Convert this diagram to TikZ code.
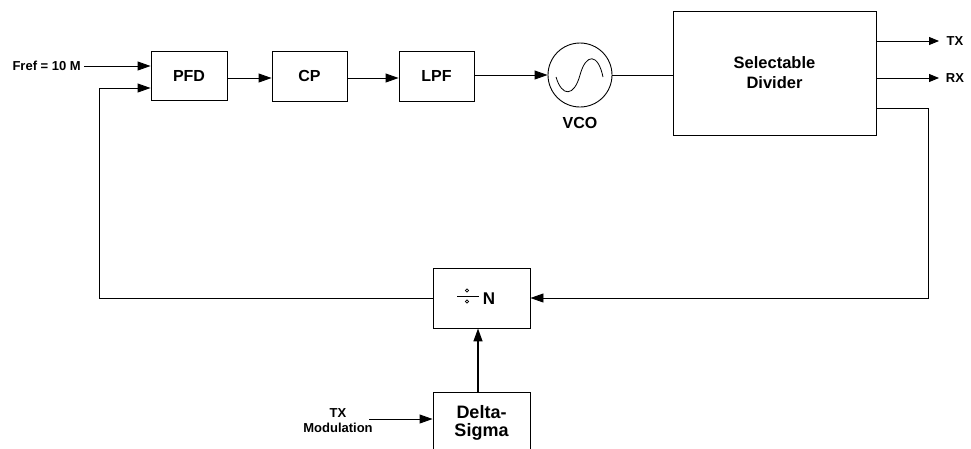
\documentclass[tikz,border=0pt]{standalone}
\usepackage{fontspec}
\setmainfont{Liberation Sans}
\usetikzlibrary{arrows.meta,calc}
\begin{document}
\begin{tikzpicture}[x=1pt,y=-1pt,
  blk/.style={draw=black,line width=0.9pt,rectangle,inner sep=0pt,font=\bfseries\fontsize{16}{18}\selectfont},
  lbl/.style={inner sep=0pt,font=\bfseries\fontsize{13}{15}\selectfont,align=center},
  arr/.style={draw=black,line width=0.9pt,-{Triangle[length=13pt,width=9pt]}},
  ln/.style={draw=black,line width=0.9pt}]
\useasboundingbox (0,0) rectangle (971,448);
% blocks
\node[blk,minimum width=76pt,minimum height=49pt] (PFD) at (189,76) {PFD};
\node[blk,minimum width=75pt,minimum height=50pt] (CP) at (309.5,76) {CP};
\node[blk,minimum width=75pt,minimum height=50pt] (LPF) at (436.5,76) {LPF};
\node[draw=black,line width=0.9pt,circle,minimum size=64pt,inner sep=0pt] (VCO) at (580,75) {};
\node[lbl,font=\bfseries\fontsize{16}{18}\selectfont] (VCOl) at (580,123) {VCO};
\node[blk,minimum width=203pt,minimum height=124pt,align=center,font=\bfseries\fontsize{16.5}{20}\selectfont] (Div) at (774.5,73) {Selectable\\Divider};
\node[blk,minimum width=97pt,minimum height=60pt] (DivN) at (481.5,298) {};
\node[blk,minimum width=97pt,minimum height=62pt,align=center,font=\bfseries\fontsize{18}{18}\selectfont] (DS) at (481.5,423) {Delta-\\Sigma};
% divide symbol and N
\draw[line width=0.9pt] (457,296) -- (479,296);
\draw[line width=0.6pt] (467,290.5) circle (1.6);
\draw[line width=0.6pt] (467,301.5) circle (1.6);
\node[lbl,font=\bfseries\fontsize{17}{18}\selectfont] (Nl) at (489,298.5) {N};
% sine in VCO
\draw[line width=0.8pt] (556,77) .. controls (562,97) and (574,97) .. (580,75)
  .. controls (586,53) and (598,53) .. (603,77);
% labels
\node[lbl,anchor=east] (Fref) at (81,65.5) {Fref = 10 M};
\coordinate (fref) at (84,66);
\node[lbl] (TXl) at (955,41) {TX};
\node[lbl] (RXl) at (955,78) {RX};
\coordinate (tx) at (939,41);
\coordinate (rx) at (939,78);
\node[lbl] (TXM) at (338,420.5) {TX\\Modulation};
\coordinate (txm) at (369,419);
\coordinate (fbA) at (928,108);
\coordinate (fbB) at (99,88);
% connectors
\draw[arr] (fref) -- (PFD.west |- fref);
\draw[arr] ([yshift=-2pt]PFD.east) -- ([yshift=-2pt]CP.west);
\draw[arr] ([yshift=-2pt]CP.east) -- ([yshift=-2pt]LPF.west);
\draw[arr] (LPF.east |- VCO.west) -- (VCO.west);
\draw[ln] (VCO.east) -- (VCO.east -| Div.west);
\draw[arr,-{Triangle[length=10pt,width=8pt]}] (Div.east |- tx) -- (tx);
\draw[arr,-{Triangle[length=10pt,width=8pt]}] (Div.east |- rx) -- (rx);
\draw[arr] (Div.east |- fbA) -- (fbA) |- (DivN.east);
\draw[arr] (DivN.west) -| (fbB) -- (PFD.west |- fbB);
\draw[arr,line width=1.4pt,-{Triangle[length=13pt,width=9pt]}] ([xshift=-3.5pt]DS.north) -- ([xshift=-3.5pt]DivN.south);
\draw[arr] (txm) -- (DS.west |- txm);
\end{tikzpicture}
\end{document}
